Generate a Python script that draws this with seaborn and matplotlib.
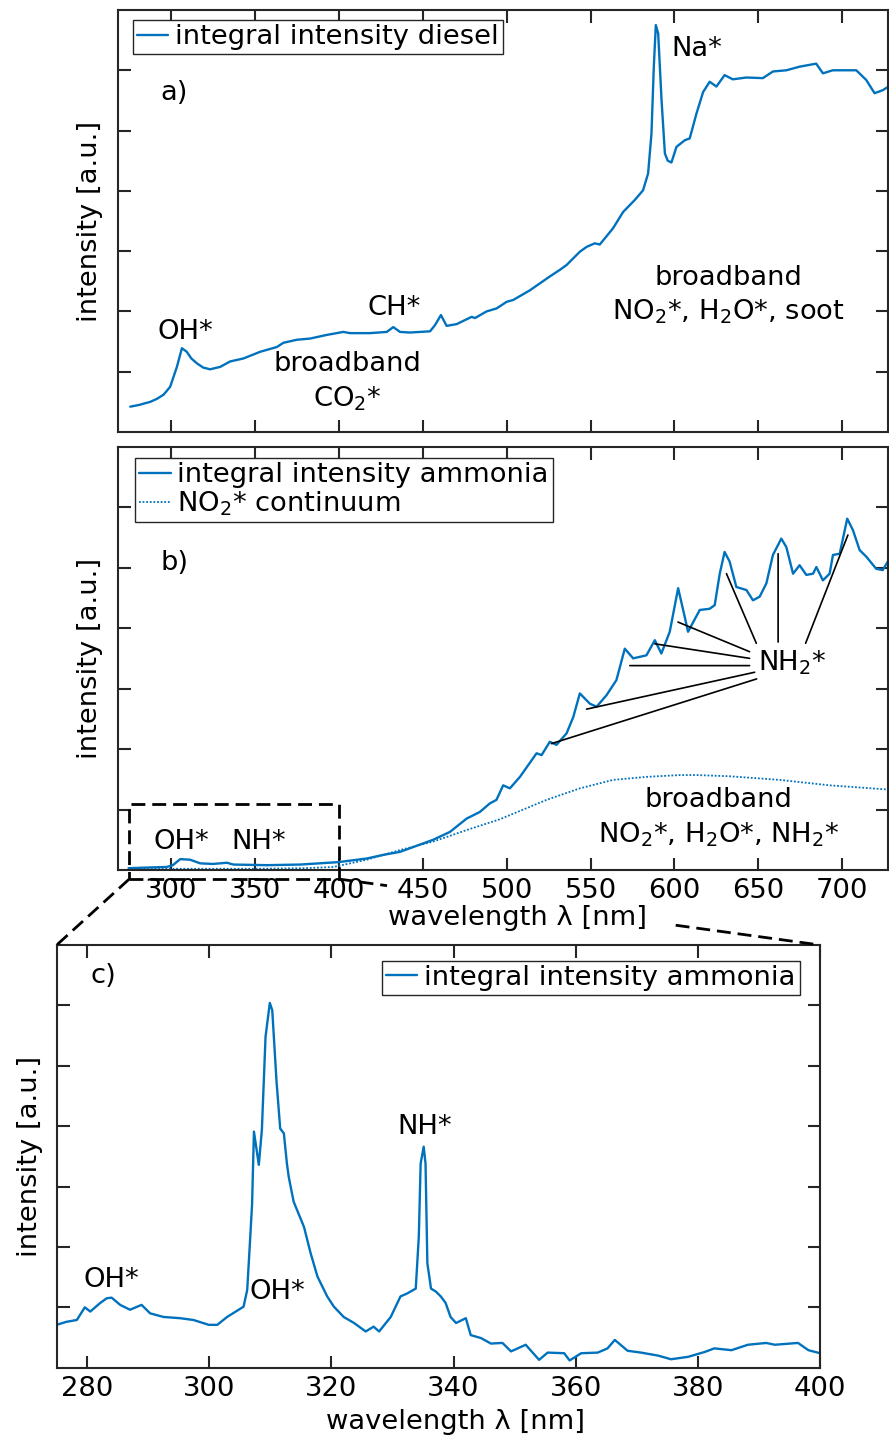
import numpy as np
import pandas as pd
import matplotlib
matplotlib.use("Agg")
import matplotlib.pyplot as plt
from matplotlib.patches import Rectangle
from matplotlib.lines import Line2D
import seaborn as sns

# ---------------- data ----------------
# a) diesel flame, integral intensity
diesel_nm = [275.6, 281.0, 287.5, 291.5, 295.5, 299.4, 303.4, 306.4, 309.3, 312.0,
             315.3, 319.0, 323.2, 329.2, 335.1, 343.1, 353.0, 363.0, 366.9, 374.9,
             382.8, 392.7, 402.6, 406.6, 418.5, 428.5, 432.4, 436.4, 442.3, 454.3,
             457.2, 460.8, 464.2, 470.2, 479.1, 481.1, 488.0, 494.0, 500.0, 503.9,
             513.8, 525.7, 531.7, 535.7, 543.6, 547.6, 552.5, 555.5, 563.4, 569.4,
             576.4, 581.3, 584.3, 586.3, 587.7, 588.9, 590.3, 592.3, 594.3, 596.0,
             598.2, 601.2, 606.2, 609.1, 613.1, 617.1, 621.0, 625.0, 629.9, 634.8,
             642.8, 652.7, 658.7, 666.7, 674.6, 684.5, 688.5, 694.4, 702.4, 708.4,
             714.3, 719.3, 724.2, 727.6]
diesel_int = [0.42, 0.45, 0.50, 0.55, 0.62, 0.75, 1.08, 1.39, 1.33, 1.22,
              1.14, 1.07, 1.04, 1.08, 1.17, 1.22, 1.33, 1.41, 1.48, 1.53,
              1.55, 1.61, 1.66, 1.64, 1.64, 1.66, 1.74, 1.66, 1.65, 1.67,
              1.77, 1.94, 1.76, 1.79, 1.91, 1.89, 2.00, 2.05, 2.16, 2.19,
              2.35, 2.58, 2.69, 2.77, 2.99, 3.07, 3.13, 3.11, 3.38, 3.65,
              3.85, 4.01, 4.29, 4.95, 6.06, 6.75, 6.61, 5.51, 4.62, 4.50,
              4.47, 4.73, 4.84, 4.87, 5.28, 5.64, 5.81, 5.73, 5.92, 5.85,
              5.88, 5.87, 5.98, 6.00, 6.06, 6.11, 5.95, 6.00, 6.00, 6.00,
              5.84, 5.62, 5.67, 5.73]

# b) ammonia flame, integral intensity
ammonia_nm = [274.6, 285.0, 297.4, 301.0, 305.4, 311.3, 317.3, 325.0, 333.2, 337.1,
              357.0, 376.8, 399.6, 416.6, 426.4, 436.4, 446.3, 456.2, 466.2, 476.1,
              484.0, 489.9, 493.9, 497.9, 501.9, 507.9, 517.8, 520.8, 525.7, 529.7,
              535.7, 539.7, 543.6, 549.6, 553.6, 559.5, 565.4, 570.4, 575.4, 583.3,
              588.3, 592.2, 597.2, 602.2, 606.1, 608.1, 615.1, 621.0, 624.0, 627.0,
              629.9, 632.9, 636.9, 642.9, 646.8, 650.8, 654.8, 658.7, 663.7, 666.7,
              670.7, 674.6, 678.6, 682.6, 684.6, 688.5, 692.5, 694.5, 698.5, 703.0,
              706.4, 710.4, 714.4, 720.3, 724.2, 727.6]
ammonia_int = [0.03, 0.04, 0.05, 0.08, 0.18, 0.17, 0.11, 0.10, 0.12, 0.09,
               0.08, 0.09, 0.13, 0.19, 0.25, 0.30, 0.40, 0.50, 0.63, 0.85,
               0.96, 1.10, 1.16, 1.40, 1.35, 1.54, 1.93, 1.90, 2.12, 2.07,
               2.26, 2.53, 2.92, 2.75, 2.70, 2.89, 3.14, 3.66, 3.50, 3.55,
               3.80, 3.58, 3.94, 4.66, 4.19, 3.94, 4.30, 4.32, 4.38, 4.90,
               5.26, 5.10, 4.68, 4.63, 4.46, 4.52, 4.74, 5.21, 5.48, 5.34,
               4.90, 5.04, 4.88, 4.90, 5.01, 4.79, 4.90, 5.21, 5.23, 5.81,
               5.62, 5.29, 5.18, 4.98, 4.96, 5.12]

# b) NO2* continuum
continuum_nm = [275.0, 300.0, 350.0, 380.0, 396.7, 416.6, 436.4, 456.2, 476.1, 496.0,
                523.8, 543.6, 563.4, 583.3, 603.2, 613.1, 632.9, 662.7, 692.5, 727.6]
continuum_int = [0.02, 0.02, 0.02, 0.03, 0.05, 0.17, 0.33, 0.47, 0.66, 0.84,
                 1.16, 1.35, 1.49, 1.54, 1.57, 1.57, 1.55, 1.49, 1.40, 1.33]

# c) ammonia flame, UV detail 275-400 nm
uv_nm = [275.0, 276.6, 278.3, 279.6, 280.5, 282.1, 283.2, 284.0, 285.4, 287.0,
         288.9, 290.3, 292.5, 295.2, 297.4, 299.9, 301.3, 302.9, 304.8, 305.6,
         306.2, 306.7, 307.0, 307.3, 308.1, 308.6, 309.2, 309.9, 310.3, 311.0,
         311.6, 312.2, 312.7, 313.0, 313.8, 315.5, 316.6, 317.7, 319.3, 320.4,
         322.0, 323.7, 325.6, 326.9, 327.8, 329.7, 331.3, 332.4, 333.8, 334.3,
         334.6, 335.1, 335.4, 335.7, 336.3, 337.1, 337.9, 338.7, 339.5, 340.4,
         342.0, 342.8, 344.5, 346.1, 348.0, 349.4, 351.8, 354.0, 355.4, 358.1,
         359.0, 360.9, 363.6, 365.2, 366.4, 368.5, 370.7, 373.5, 375.6, 378.4,
         381.1, 382.7, 385.5, 388.2, 391.2, 392.6, 396.4, 398.1, 400.0]
uv_int = [0.71, 0.76, 0.79, 1.00, 0.93, 1.07, 1.15, 1.16, 1.04, 0.96,
          1.04, 0.90, 0.84, 0.82, 0.79, 0.71, 0.71, 0.84, 0.96, 1.01,
          1.29, 2.17, 2.72, 3.91, 3.36, 3.94, 5.48, 6.04, 5.92, 4.74,
          3.96, 3.88, 3.38, 3.16, 2.75, 2.33, 1.89, 1.51, 1.18, 1.01,
          0.84, 0.74, 0.60, 0.68, 0.60, 0.84, 1.18, 1.23, 1.31, 2.17,
          3.38, 3.66, 3.38, 1.73, 1.31, 1.26, 1.18, 1.07, 0.84, 0.74,
          0.82, 0.54, 0.49, 0.40, 0.41, 0.27, 0.38, 0.13, 0.25, 0.24,
          0.12, 0.24, 0.25, 0.32, 0.46, 0.28, 0.25, 0.20, 0.14, 0.18,
          0.26, 0.32, 0.29, 0.38, 0.41, 0.38, 0.41, 0.29, 0.24]

# NH2* band heads marked in panel b (wavelength, intensity)
nh2_nm = [526.7, 547.6, 573.4, 588.3, 602.1, 631.0, 661.8, 703.4]
nh2_int = [2.09, 2.66, 3.38, 3.74, 4.10, 4.90, 5.23, 5.54]

wide_ticks = [300, 350, 400, 450, 500, 550, 600, 650, 700]
uv_ticks = [280, 300, 320, 340, 360, 380, 400]
y_ticks = [1, 2, 3, 4, 5, 6]

# ---------------- style ----------------
sns.set_theme(style="white")
plt.rcParams["font.family"] = ["DejaVu Sans"]
plt.rcParams["mathtext.fontset"] = "dejavusans"
plt.rcParams["text.color"] = "black"
plt.rcParams["axes.labelcolor"] = "black"
FS = 19.7
BLUE = "#0072BD"
AXC = "#262626"

W, H = 889, 1439
fig = plt.figure(figsize=(W / 100, H / 100), dpi=100)


def px_axes(l, t, r, b):
    return fig.add_axes([l / W, 1 - b / H, (r - l) / W, (b - t) / H])


ax_a = px_axes(117.5, 10, 888, 432)
ax_b = px_axes(117.5, 446.7, 888, 870)
ax_c = px_axes(56.7, 945, 820, 1367.7)


def frame(ax, xlim, xticks, show_xlabels, ylab_x):
    ax.set_xlim(*xlim)
    ax.set_ylim(0, 7)
    ax.set_xticks(xticks)
    ax.set_yticks(y_ticks)
    ax.set_yticklabels([])
    if not show_xlabels:
        ax.set_xticklabels([])
    for s in ax.spines.values():
        s.set_visible(True)
        s.set_color(AXC)
        s.set_linewidth(1.5)
    ax.tick_params(direction="in", length=9, width=1.5, color=AXC,
                   top=True, right=True, bottom=True, left=True,
                   labelsize=FS, pad=6, labelcolor="black")
    ax.set_ylabel("intensity [a.u.]", fontsize=FS, va="center")
    ax.yaxis.set_label_coords(ylab_x, 0.5)
    ax.set_facecolor("white")


def xlabel(ax, xc, yc):
    ax.set_xlabel("wavelength λ [nm]", fontsize=FS, va="center")
    ax.xaxis.set_label_coords(xc, yc)


# ---------------- a) diesel ----------------
sns.lineplot(x=diesel_nm, y=diesel_int, ax=ax_a, color=BLUE, linewidth=1.7,
             estimator=None, sort=False, label="integral intensity diesel")
frame(ax_a, (268, 727.3), wide_ticks, False, -0.036)

ax_a.text(293.4, 5.62, "a)", fontsize=FS, ha="left", va="center")
ax_a.text(308.3, 1.66, "OH*", fontsize=FS, ha="center", va="center")
ax_a.text(432.8, 2.06, "CH*", fontsize=FS, ha="center", va="center")
ax_a.text(405.1, 0.83, "broadband\nCO$_2$*", fontsize=FS, ha="center",
          va="center", linespacing=1.3)
ax_a.text(613.1, 6.35, "Na*", fontsize=FS, ha="center", va="center")
ax_a.text(632.0, 2.26, "broadband\nNO$_2$*, H$_2$O*, soot", fontsize=FS,
          ha="center", va="center", linespacing=1.3)

# ---------------- b) ammonia ----------------
sns.lineplot(x=ammonia_nm, y=ammonia_int, ax=ax_b, color=BLUE, linewidth=1.7,
             estimator=None, sort=False, label="integral intensity ammonia")
sns.lineplot(x=continuum_nm, y=continuum_int, ax=ax_b, color=BLUE,
             linewidth=1.3, linestyle=(0, (1, 1)), estimator=None, sort=False,
             label="NO$_2$* continuum")
frame(ax_b, (268, 727.3), wide_ticks, True, -0.036)
xlabel(ax_b, 0.5185, -0.113)

ax_b.text(293.4, 5.08, "b)", fontsize=FS, ha="left", va="center")
ax_b.text(305.8, 0.47, "OH*", fontsize=FS, ha="center", va="center")
ax_b.text(352.0, 0.47, "NH*", fontsize=FS, ha="center", va="center")
ax_b.text(626.0, 0.86, "broadband\nNO$_2$*, H$_2$O*, NH$_2$*", fontsize=FS,
          ha="center", va="center", linespacing=1.3)
ax_b.text(670.2, 3.42, "NH$_2$*", fontsize=FS, ha="center", va="center")

# leader lines from the NH2* label to the band heads
label_anchor = [(649.0, 3.16), (647.8, 3.27), (644.8, 3.38), (644.8, 3.50),
                (644.8, 3.61), (648.8, 3.75), (661.8, 3.77), (678.2, 3.75)]
for (tx, ty), (sx, sy) in zip(zip(nh2_nm, nh2_int), label_anchor):
    ax_b.annotate("", xy=(tx, ty), xytext=(sx, sy),
                  arrowprops=dict(arrowstyle="-", color="black", lw=1.2,
                                  shrinkA=0, shrinkB=0))

# dashed zoom box around the UV range
zoom_lo, zoom_hi = 275, 400
box_bottom, box_top = -0.15, 1.09
ax_b.add_patch(Rectangle((zoom_lo, box_bottom), zoom_hi - zoom_lo,
                         box_top - box_bottom, fill=False, edgecolor="black",
                         linewidth=2.0, linestyle=(0, (5, 2.5)), clip_on=False,
                         zorder=5))

# ---------------- c) UV detail ----------------
sns.lineplot(x=uv_nm, y=uv_int, ax=ax_c, color=BLUE, linewidth=1.7,
             estimator=None, sort=False, label="integral intensity ammonia")
frame(ax_c, (zoom_lo, zoom_hi), uv_ticks, True, -0.035)
xlabel(ax_c, 0.522, -0.128)

ax_c.text(280.5, 6.49, "c)", fontsize=FS, ha="left", va="center")
ax_c.text(283.9, 1.45, "OH*", fontsize=FS, ha="center", va="center")
ax_c.text(311.2, 1.26, "OH*", fontsize=FS, ha="center", va="center")
ax_c.text(335.3, 3.98, "NH*", fontsize=FS, ha="center", va="center")

# ---------------- legends ----------------
leg_kw = dict(fontsize=FS, loc="upper left", frameon=True, fancybox=False,
              framealpha=1, edgecolor=AXC, handlelength=1.15,
              handletextpad=0.25, borderpad=0.15, borderaxespad=0,
              labelspacing=0.05)
for ax, anchor in ((ax_a, (0.0197, 0.976)), (ax_b, (0.0227, 0.9726)),
                   (ax_c, (0.4258, 0.963))):
    lg = ax.legend(bbox_to_anchor=anchor, **leg_kw)
    lg.get_frame().set_linewidth(1.0)

# ---------------- connector lines between b) and c) ----------------
to_fig = fig.transFigure.inverted()


def fig_pt(xy, trans):
    return to_fig.transform(trans.transform(xy))


dash = dict(color="black", linewidth=2.0, linestyle=(0, (5, 2.5)))
p0 = fig_pt((zoom_lo, box_bottom), ax_b.transData)
p1 = fig_pt((0, 1), ax_c.transAxes)
fig.add_artist(Line2D([p0[0], p1[0]], [p0[1], p1[1]], **dash))

q0 = fig_pt((zoom_hi, box_bottom), ax_b.transData)
q1 = fig_pt((1, 1), ax_c.transAxes)
for t0, t1 in ((0.0, 0.10), (0.70, 1.0)):
    a = q0 + (q1 - q0) * t0
    b = q0 + (q1 - q0) * t1
    fig.add_artist(Line2D([a[0], b[0]], [a[1], b[1]], **dash))

fig.savefig("out.png", dpi=100, facecolor="white")
